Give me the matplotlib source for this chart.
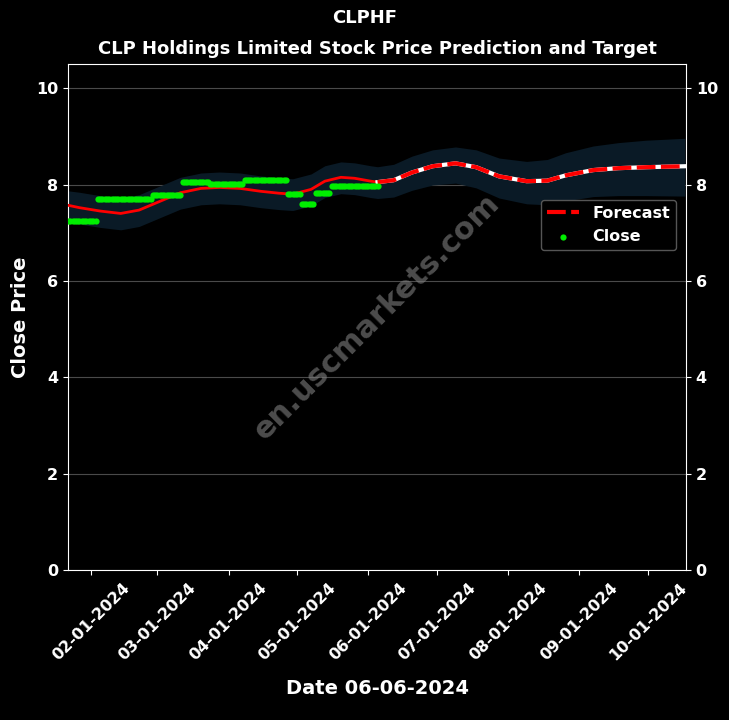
import matplotlib
matplotlib.use("Agg")
import matplotlib.pyplot as plt
import matplotlib.dates as mdates
import pandas as pd
import numpy as np

# Close price segments (start, end, price)
close_start = ["2024-01-22", "2024-02-04", "2024-02-28", "2024-03-12", "2024-03-24",
               "2024-04-08", "2024-04-27", "2024-05-03", "2024-05-09", "2024-05-16"]
close_end = ["2024-02-03", "2024-02-27", "2024-03-11", "2024-03-23", "2024-04-07",
             "2024-04-26", "2024-05-02", "2024-05-08", "2024-05-15", "2024-06-05"]
close_vals = [7.25, 7.69, 7.78, 8.05, 8.02, 8.10, 7.80, 7.60, 7.83, 7.96]

# Fitted (history) line
fit_dates = ["2024-01-22", "2024-01-27", "2024-02-05", "2024-02-14", "2024-02-22",
             "2024-03-02", "2024-03-11", "2024-03-20", "2024-03-28", "2024-04-06",
             "2024-04-15", "2024-04-23", "2024-04-29", "2024-05-07", "2024-05-13",
             "2024-05-20", "2024-05-26", "2024-06-02", "2024-06-05"]
fit_vals = [7.57, 7.52, 7.45, 7.40, 7.47, 7.65, 7.83, 7.92, 7.94, 7.92,
            7.86, 7.82, 7.80, 7.90, 8.07, 8.15, 8.13, 8.07, 8.05]

# Forecast line
fc_dates = ["2024-06-05", "2024-06-12", "2024-06-20", "2024-06-29", "2024-07-09",
            "2024-07-18", "2024-07-28", "2024-08-09", "2024-08-18", "2024-08-26",
            "2024-09-07", "2024-09-18", "2024-09-30", "2024-10-17"]
fc_vals = [8.05, 8.09, 8.25, 8.38, 8.44, 8.36, 8.17, 8.07, 8.08, 8.19,
           8.30, 8.34, 8.36, 8.38]

# Confidence band
band_dates = fit_dates + fc_dates[1:]
band_upper = [7.87, 7.84, 7.77, 7.72, 7.79, 7.97, 8.15, 8.24, 8.26, 8.24,
              8.18, 8.14, 8.12, 8.22, 8.39, 8.47, 8.45, 8.39, 8.37,
              8.42, 8.59, 8.72, 8.78, 8.72, 8.55, 8.48, 8.52, 8.66,
              8.80, 8.87, 8.92, 8.96]
band_lower = [7.22, 7.18, 7.11, 7.06, 7.13, 7.31, 7.49, 7.58, 7.60, 7.58,
              7.52, 7.48, 7.46, 7.56, 7.73, 7.81, 7.79, 7.73, 7.71,
              7.74, 7.88, 7.99, 8.03, 7.93, 7.72, 7.60, 7.58, 7.66,
              7.75, 7.77, 7.77, 7.76]

title = "CLP Holdings Limited Stock Price Prediction and Target"
suptitle = "CLPHF"
xlabel = "Date 06-06-2024"
ylabel = "Close Price"

plt.rcParams['font.family'] = ['DejaVu Sans']
plt.rcParams['font.weight'] = 'bold'

fig = plt.figure(figsize=(7.29, 7.2), dpi=100, facecolor='black')
ax = fig.add_axes([0.0933, 0.2083, 0.8477, 0.7027])
ax.set_facecolor('black')

bd = pd.to_datetime(band_dates)
ax.fill_between(bd, band_lower, band_upper, color='#0a1a26', zorder=1, linewidth=0)

ax.plot(pd.to_datetime(fit_dates), fit_vals, color='red', lw=2, zorder=3)
ax.plot(pd.to_datetime(fc_dates), fc_vals, color='white', lw=3, zorder=3)
ax.plot(pd.to_datetime(fc_dates), fc_vals, color='red', lw=3, ls=(0, (4.5, 1.3)), zorder=4, label='Forecast')

cd, cv = [], []
for s, e, v in zip(close_start, close_end, close_vals):
    r = pd.date_range(s, e, freq='D')
    cd.extend(r)
    cv.extend([v] * len(r))
ax.scatter(cd, cv, color='#00ee00', s=20, zorder=5, label='Close', linewidths=0)

ax.set_ylim(0, 10.5)
ax.set_xlim(pd.Timestamp("2024-01-22"), pd.Timestamp("2024-10-17 12:00"))
ax.set_yticks([0, 2, 4, 6, 8, 10])
ax.grid(axis='y', color='#4a4a4a', lw=0.8)
ax.set_axisbelow(True)

ax.xaxis.set_major_locator(mdates.MonthLocator())
ax.xaxis.set_major_formatter(mdates.DateFormatter('%m-%d-%Y'))
ax.tick_params(axis='x', colors='white', labelsize=11.5, labelrotation=45)
ax.tick_params(axis='y', colors='white', labelsize=11.5, right=True, labelright=True)
for lab in ax.get_xticklabels() + ax.get_yticklabels():
    lab.set_fontweight('bold')
for sp in ax.spines.values():
    sp.set_color('white')

ax.set_title(title, color='white', fontsize=13, fontweight='bold', pad=7)
fig.suptitle(suptitle, color='white', fontsize=13, fontweight='bold', y=0.988)
ax.set_xlabel(xlabel, color='white', fontsize=14, fontweight='bold', labelpad=12)
ax.set_ylabel(ylabel, color='white', fontsize=14, fontweight='bold')

ax.text(0.5, 0.5, 'en.uscmarkets.com', transform=ax.transAxes, rotation=45,
        fontsize=22, fontweight='bold', color='gray', alpha=0.6,
        ha='center', va='center', zorder=2)

leg = ax.legend(loc='upper right', bbox_to_anchor=(0.997, 0.748), facecolor='black',
                edgecolor='#555555', fontsize=11.5, labelcolor='white', framealpha=1)
for t in leg.get_texts():
    t.set_fontweight('bold')

fig.savefig('out.png', dpi=100, facecolor='black')
